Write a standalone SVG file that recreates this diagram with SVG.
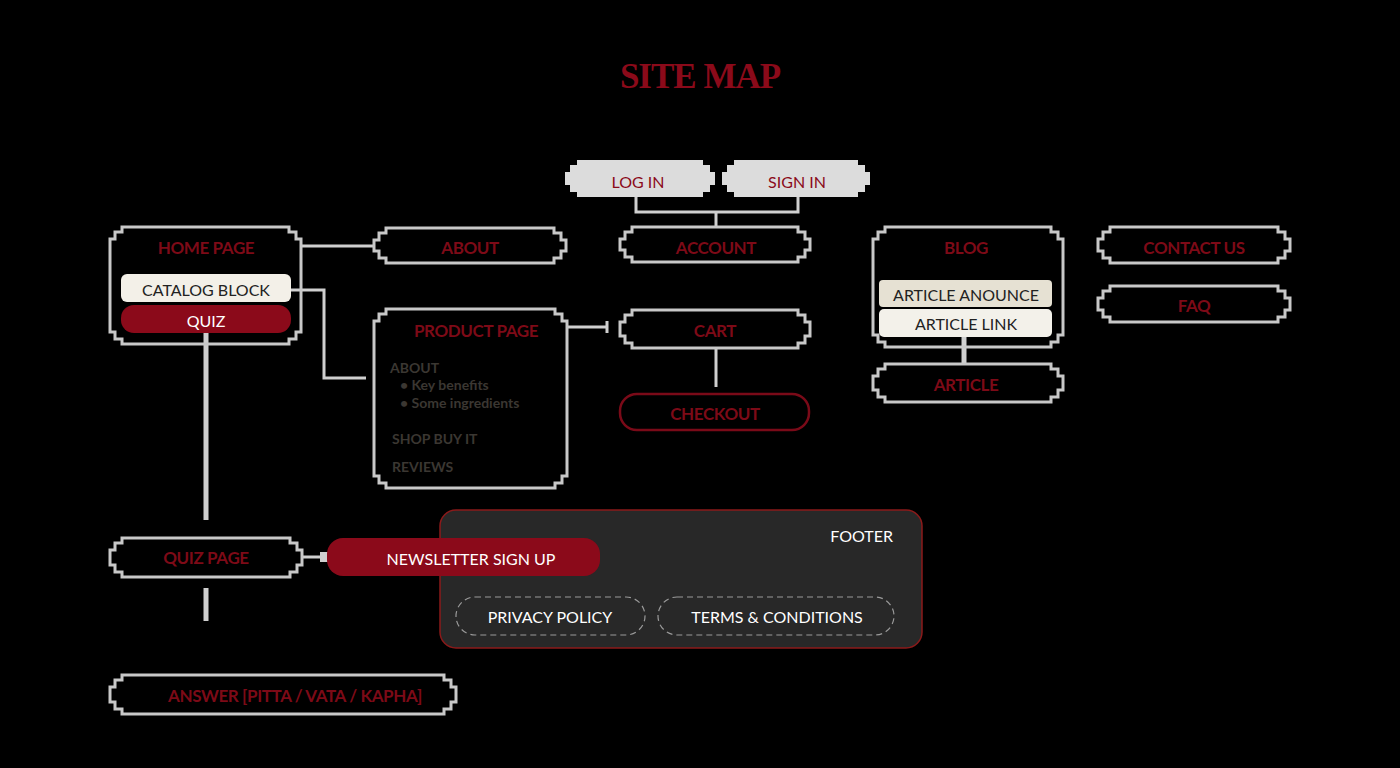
<svg xmlns="http://www.w3.org/2000/svg" width="1400" height="768" viewBox="0 0 1400 768">
<style>
.bg{fill:#000}
.box{fill:none;stroke:#c8c8c8;stroke-width:3}
.pill{fill:#dcdcdc}
.lbl{font-family:Lato,"Open Sans","Liberation Sans",sans-serif;font-weight:700;font-size:17px;fill:#7d0a17;text-anchor:middle;dominant-baseline:central;letter-spacing:-0.4px}
.lt{font-family:Lato,"Open Sans","Liberation Sans",sans-serif;font-size:16px;text-anchor:middle;dominant-baseline:central}
.end{text-anchor:end}
.dark{fill:#222}
.red{fill:#8b0a1a}
.white{fill:#fff}
.inner{font-family:Lato,"Liberation Sans",sans-serif;font-weight:700;font-size:14px;fill:#3b3732}
.conn{fill:none;stroke:#cfcfcf;stroke-width:3}
.thick{stroke-width:5}
.dash{fill:none;stroke:#9a9a9a;stroke-width:1.2;stroke-dasharray:6 4}
</style>
<rect class="bg" x="0" y="0" width="1400" height="768"/>
<text x="700" y="88" font-family="'Liberation Serif',serif" font-weight="700" font-size="35" fill="#8b0a1a" text-anchor="middle" letter-spacing="-1">SITE MAP</text>

<g id="connectors">
<path class="conn" d="M636 197 V212 H798 V197"/>
<path class="conn" d="M716 212 V227"/>
<path class="conn" d="M301 246 H374"/>
<path class="conn" d="M291 290 H324 V378 H366"/>
<path class="conn" d="M567 327 H607 M607 321 V333"/>
<path class="conn" d="M716 348 V387"/>
<path class="conn thick" d="M964 337 V364"/>
<path class="conn thick" d="M206 333 V520"/>
<path class="conn thick" d="M206 588 V621"/>
<path class="conn" d="M302 557 H322"/>
<rect x="320" y="552" width="9" height="10" fill="#cfcfcf"/>
</g>

<g id="login">
<path class="pill" d="M577 160 h126 v5 h7 v7 h5 v13 h-5 v7 h-7 v5 h-126 v-5 h-7 v-7 h-5 v-13 h5 v-7 h7 z"/>
<text class="lt red" x="638" y="181" font-size="17">LOG IN</text>
</g>
<g id="signin">
<path class="pill" d="M734 160 h124 v5 h7 v7 h5 v13 h-5 v7 h-7 v5 h-124 v-5 h-7 v-7 h-5 v-13 h5 v-7 h7 z"/>
<text class="lt red" x="797" y="181" font-size="17">SIGN IN</text>
</g>

<g id="home">
<path class="box" d="M122 227 h167 v5 h7 v7 h5 v93 h-5 v7 h-7 v5 h-167 v-5 h-7 v-7 h-5 v-93 h5 v-7 h7 z"/>
<text class="lbl" x="206" y="247">HOME PAGE</text>
<rect x="121" y="274" width="170" height="28" rx="6" fill="#f3f0e8"/>
<text class="lt dark" x="206" y="289">CATALOG BLOCK</text>
<rect x="121" y="305" width="170" height="28" rx="13" fill="#8b0a1a"/>
<text class="lt white" x="206" y="320">QUIZ</text>
</g>

<g id="about">
<path class="box" d="M386 228 h168 v5 h7 v7 h5 v11 h-5 v7 h-7 v5 h-168 v-5 h-7 v-7 h-5 v-11 h5 v-7 h7 z"/>
<text class="lbl" x="470" y="247">ABOUT</text>
</g>

<g id="account">
<path class="box" d="M632 227 h166 v5 h7 v7 h5 v11 h-5 v7 h-7 v5 h-166 v-5 h-7 v-7 h-5 v-11 h5 v-7 h7 z"/>
<text class="lbl" x="716" y="247">ACCOUNT</text>
</g>

<g id="product">
<path class="box" d="M386 309 h169 v5 h7 v7 h5 v155 h-5 v7 h-7 v5 h-169 v-5 h-7 v-7 h-5 v-155 h5 v-7 h7 z"/>
<text class="lbl" x="476" y="330">PRODUCT PAGE</text>
<text class="inner" x="390" y="373">ABOUT</text>
<text class="inner" x="400" y="390">• Key benefits</text>
<text class="inner" x="400" y="408">• Some ingredients</text>
<text class="inner" x="392" y="444">SHOP BUY IT</text>
<text class="inner" x="392" y="472">REVIEWS</text>
</g>

<g id="cart">
<path class="box" d="M632 310 h166 v5 h7 v7 h5 v14 h-5 v7 h-7 v5 h-166 v-5 h-7 v-7 h-5 v-14 h5 v-7 h7 z"/>
<text class="lbl" x="715" y="330">CART</text>
</g>

<g id="checkout">
<rect x="620" y="394" width="189" height="36" rx="17" fill="none" stroke="#7a0a18" stroke-width="2.5"/>
<text class="lbl" x="715" y="413">CHECKOUT</text>
</g>

<g id="blog">
<path class="box" d="M885 227 h166 v5 h7 v7 h5 v96 h-5 v7 h-7 v5 h-166 v-5 h-7 v-7 h-5 v-96 h5 v-7 h7 z"/>
<text class="lbl" x="966" y="247">BLOG</text>
<rect x="879" y="280" width="173" height="27" rx="4" fill="#e6e1d3"/>
<text class="lt dark" x="966" y="294">ARTICLE ANOUNCE</text>
<rect x="879" y="309" width="173" height="28" rx="5" fill="#f3f1ea"/>
<text class="lt dark" x="966" y="323">ARTICLE LINK</text>
</g>

<g id="article">
<path class="box" d="M885 364 h166 v5 h7 v7 h5 v14 h-5 v7 h-7 v5 h-166 v-5 h-7 v-7 h-5 v-14 h5 v-7 h7 z"/>
<text class="lbl" x="966" y="384">ARTICLE</text>
</g>

<g id="contact">
<path class="box" d="M1110 227 h168 v5 h7 v7 h5 v12 h-5 v7 h-7 v5 h-168 v-5 h-7 v-7 h-5 v-12 h5 v-7 h7 z"/>
<text class="lbl" x="1194" y="247">CONTACT US</text>
</g>

<g id="faq">
<path class="box" d="M1110 286 h168 v5 h7 v7 h5 v12 h-5 v7 h-7 v5 h-168 v-5 h-7 v-7 h-5 v-12 h5 v-7 h7 z"/>
<text class="lbl" x="1194" y="305">FAQ</text>
</g>

<g id="quizpage">
<path class="box" d="M122 538 h168 v5 h7 v7 h5 v15 h-5 v7 h-7 v5 h-168 v-5 h-7 v-7 h-5 v-15 h5 v-7 h7 z"/>
<text class="lbl" x="206" y="557">QUIZ PAGE</text>
</g>

<g id="answer">
<path class="box" d="M122 675 h322 v5 h7 v7 h5 v15 h-5 v7 h-7 v5 h-322 v-5 h-7 v-7 h-5 v-15 h5 v-7 h7 z"/>
<text class="lbl" x="295" y="695">ANSWER [PITTA / VATA / KAPHA]</text>
</g>

<g id="footer">
<rect x="440" y="510" width="482" height="138" rx="16" fill="#282828" stroke="#8b1a1a" stroke-width="1.5"/>
<text class="lt white end" x="893" y="535" font-size="17">FOOTER</text>
<rect x="456" y="597" width="189" height="38" rx="19" class="dash"/>
<text class="lt white" x="550" y="616" font-size="17">PRIVACY POLICY</text>
<rect x="658" y="597" width="236" height="38" rx="19" class="dash"/>
<text class="lt white" x="777" y="616" font-size="17">TERMS &amp; CONDITIONS</text>
</g>

<g id="newsletter">
<rect x="327" y="538" width="273" height="38" rx="16" fill="#8b0a1a"/>
<text class="lt white" x="471" y="558" font-size="17">NEWSLETTER SIGN UP</text>
</g>
</svg>
